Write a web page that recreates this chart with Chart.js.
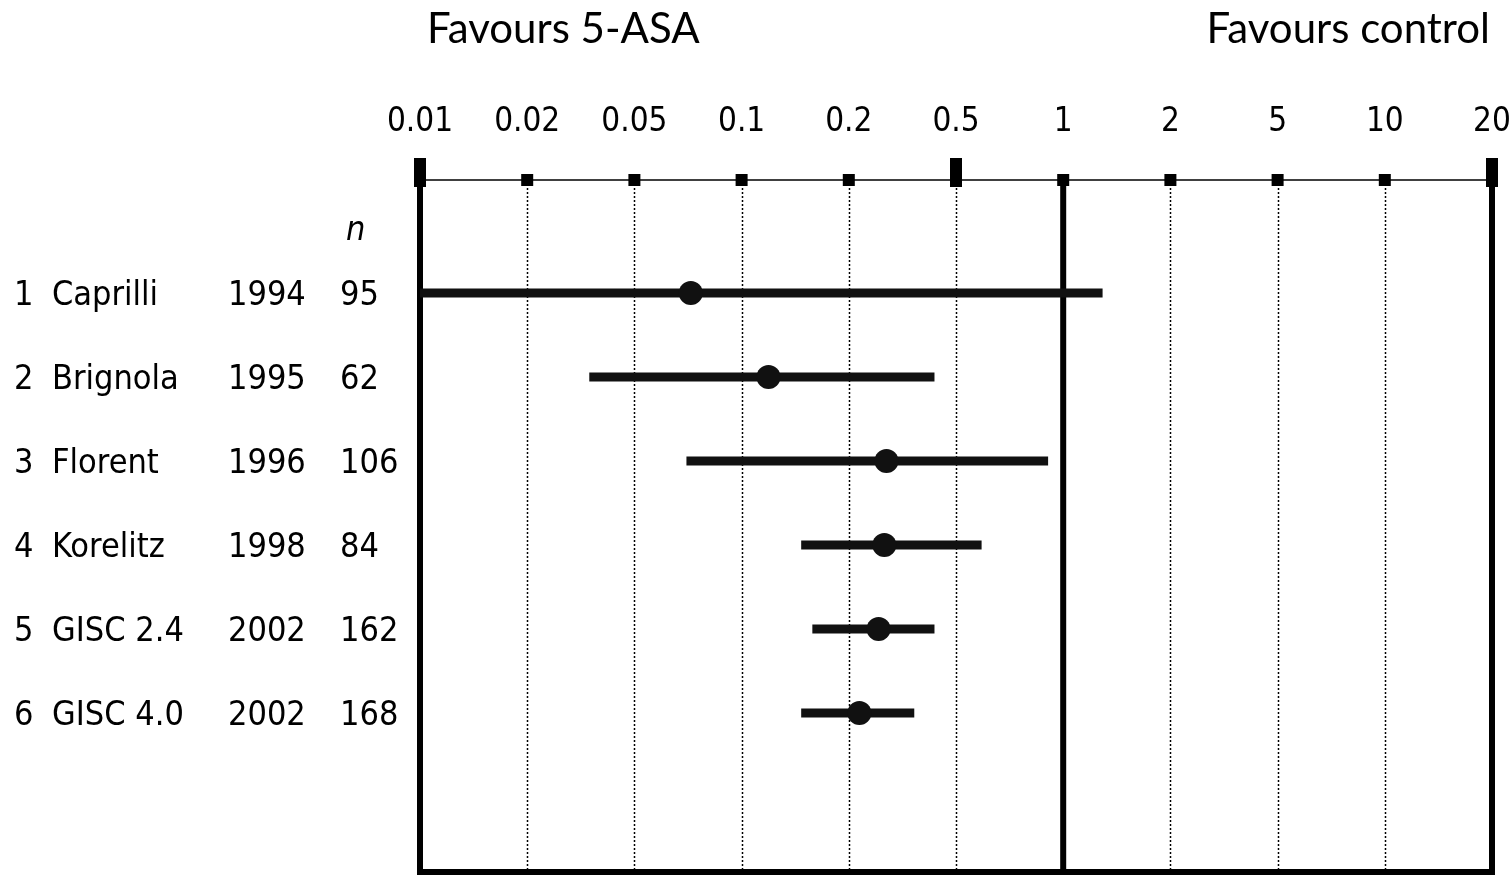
<!DOCTYPE html>
<html>
<head>
<meta charset="utf-8">
<script src="https://cdn.jsdelivr.net/npm/chart.js@4.4.1/dist/chart.umd.min.js"></script>
<style>
	html,body{margin:0;padding:0;background:#ffffff;}
	#wrap{width:1510px;height:875px;}
</style>
</head>
<body>
<div id="wrap"><canvas id="c" width="1510" height="875"></canvas></div>
<script>
// Axis ticks (odds ratio, drawn evenly spaced)
const TICKS = [0.01,0.02,0.05,0.1,0.2,0.5,1,2,5,10,20];
const TICK_LABELS = ['0.01','0.02','0.05','0.1','0.2','0.5','1','2','5','10','20'];

// Studies
const studies = ['Caprilli','Brignola','Florent','Korelitz','GISC 2.4','GISC 4.0'];
const years = ['1994','1995','1996','1998','2002','2002'];
const nPatients = ['95','62','106','84','162','168'];
const oddsRatio = [0.072,0.119,0.276,0.271,0.258,0.219];
const ciLower = [0.01,0.034,0.070,0.147,0.158,0.147];
const ciUpper = [1.29,0.416,0.907,0.59,0.416,0.35];

// map an odds ratio onto the evenly spaced tick index (log between ticks)
function axisPos(v){
	for(let i = 0; i < TICKS.length-1; i++){
		if(v <= TICKS[i+1]) return i + Math.log(Math.max(v,TICKS[i])/TICKS[i])/Math.log(TICKS[i+1]/TICKS[i]);
	}
	return TICKS.length-1;
}

const MARK = '#111111';
const ROW_FONT = '34px "DejaVu Sans Condensed", "DejaVu Sans", sans-serif';

const datasets = [{
	type:'scatter',
	label:'OR',
	order:0,
	data: oddsRatio.map((v,i) => ({x:axisPos(v), y:i+1})),
	pointRadius:12,
	pointHoverRadius:12,
	pointBackgroundColor:MARK,
	pointBorderWidth:0
}];
studies.forEach((s,i) => {
	datasets.push({
		type:'scatter',
		label:s,
		order:1,
		showLine:true,
		data:[{x:axisPos(ciLower[i]),y:i+1},{x:axisPos(ciUpper[i]),y:i+1}],
		borderColor:MARK,
		borderWidth:9,
		borderCapStyle:'butt',
		pointRadius:0
	});
});

const forestDecor = {
	id:'forestDecor',
	beforeDatasetsDraw(chart){
		const {ctx, chartArea:a, scales:{x}} = chart;
		ctx.save();
		ctx.strokeStyle = '#000';
		// dotted grid lines
		ctx.lineWidth = 1.5;
		ctx.setLineDash([2,2]);
		for(let i = 1; i < TICKS.length-1; i++){
			if(i==6) continue;
			const px = Math.round(x.getPixelForValue(i))+0.5;
			ctx.beginPath(); ctx.moveTo(px,a.top); ctx.lineTo(px,a.bottom); ctx.stroke();
		}
		ctx.setLineDash([]);
		// axis line on top
		ctx.lineWidth = 1.5;
		ctx.beginPath(); ctx.moveTo(x.getPixelForValue(0),a.top); ctx.lineTo(x.getPixelForValue(10),a.top); ctx.stroke();
		// solid lines: left border, no effect line, right border
		ctx.fillStyle = '#000';
		[0,6,10].forEach(i => {
			const px = x.getPixelForValue(i);
			ctx.fillRect(px-3,a.top,6,a.bottom-a.top+3);
		});
		// bottom border
		ctx.fillRect(x.getPixelForValue(0)-3,a.bottom-3,x.getPixelForValue(10)-x.getPixelForValue(0)+6,6);
		// tick markers
		for(let i = 0; i < TICKS.length; i++){
			const px = x.getPixelForValue(i);
			if(i==0 || i==5 || i==10) ctx.fillRect(px-6,a.top-22,12,29);
			else ctx.fillRect(px-6,a.top-6,12,12);
		}
		ctx.restore();
	},
	afterDraw(chart){
		const {ctx, scales:{x,y}} = chart;
		ctx.save();
		ctx.fillStyle = '#000';
		ctx.textBaseline = 'alphabetic';
		// headers
		ctx.font = '42px Lato, "Open Sans", sans-serif';
		ctx.textAlign = 'left';
		ctx.fillText('Favours 5-ASA',427,43);
		ctx.textAlign = 'right';
		ctx.fillText('Favours control',1490,43);
		// study table
		ctx.textAlign = 'left';
		ctx.font = 'italic ' + ROW_FONT;
		ctx.fillText('n',346,y.getPixelForValue(0.25)+10);
		ctx.font = ROW_FONT;
		studies.forEach((s,i) => {
			const py = y.getPixelForValue(i+1)+12;
			ctx.fillText(String(i+1),14,py);
			ctx.fillText(s,52,py);
			ctx.fillText(years[i],228,py);
			ctx.fillText(nPatients[i],340,py);
		});
		ctx.restore();
	}
};

new Chart(document.getElementById('c'),{
	data:{datasets:datasets},
	options:{
		responsive:false,
		devicePixelRatio:1,
		animation:false,
		layout:{autoPadding:false,padding:{left:420,right:18,top:102,bottom:3}},
		plugins:{legend:{display:false},tooltip:{enabled:false}},
		scales:{
			x:{
				type:'linear',
				position:'top',
				min:0,
				max:10,
				grid:{display:false},
				border:{display:false},
				afterFit(scale){
					scale.height = 78;
					scale.paddingLeft = 0;
					scale.paddingRight = 0;
				},
				ticks:{
					stepSize:1,
					autoSkip:false,
					maxRotation:0,
					padding:30,
					color:'#000',
					font:{family:'"DejaVu Sans Condensed", "DejaVu Sans", sans-serif',size:33},
					callback:(v) => TICK_LABELS[v]
				}
			},
			y:{
				type:'linear',
				display:false,
				reverse:true,
				min:-0.345,
				max:7.893
			}
		}
	},
	plugins:[forestDecor]
});
</script>
</body>
</html>
